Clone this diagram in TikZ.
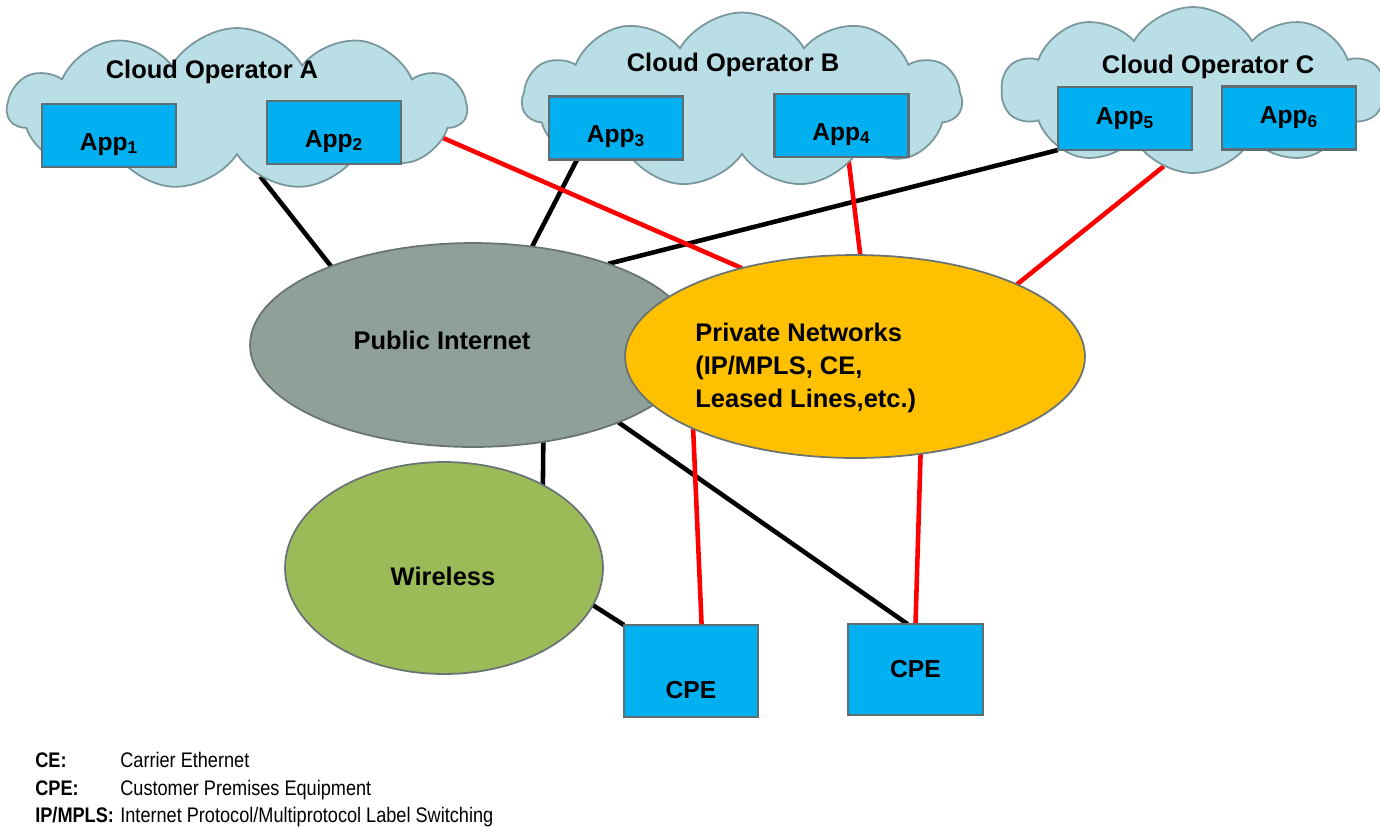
\documentclass[tikz,border=0pt]{standalone}
\usepackage{fontspec}
\setmainfont{Liberation Sans}
\newfontfamily\legendfont[FakeStretch=0.86]{Liberation Sans}
\usetikzlibrary{shapes.symbols,shapes.geometric,calc}
\pgfdeclarelayer{bg}
\pgfsetlayers{bg,main}
\definecolor{cloudfill}{RGB}{185,222,229}
\definecolor{clouddraw}{RGB}{120,150,155}
\definecolor{appfill}{RGB}{0,176,240}
\definecolor{appdraw}{RGB}{95,110,115}
\definecolor{pubfill}{RGB}{143,160,152}
\definecolor{privfill}{RGB}{255,192,0}
\definecolor{wlfill}{RGB}{155,187,89}
\definecolor{elldraw}{RGB}{105,115,115}
\definecolor{redline}{RGB}{255,0,0}
\begin{document}
\begin{tikzpicture}[x=0.02cm,y=-0.02cm,
  cloudbox/.style={cloud, cloud puffs=#1, cloud puff arc=120, cloud ignores aspect, draw=clouddraw,
    line width=1pt, fill=cloudfill, inner sep=0pt, outer sep=0pt},
  appbox/.style={rectangle, draw=appdraw, line width=1.2pt, fill=appfill,
    minimum width=2.68cm, minimum height=1.26cm, inner sep=0pt, outer sep=0pt,
    font=\bfseries\fontsize{14}{16}\selectfont},
  lowtext/.style={text height=#1, text depth=0pt},
  netell/.style={ellipse, draw=elldraw, line width=1pt, inner sep=0pt, outer sep=0pt},
  lbl/.style={inner sep=0pt, font=\bfseries\fontsize{14.5}{18.7}\selectfont},
  blk/.style={line width=2.6pt, draw=black},
  rd/.style={line width=2.6pt, draw=redline},
  legb/.style={inner sep=0pt, anchor=base west, font=\legendfont\bfseries\fontsize{12}{14}\selectfont},
  legt/.style={inner sep=0pt, anchor=base west, font=\legendfont\fontsize{12}{14}\selectfont}
]
\useasboundingbox (0,0) rectangle (1380,826);

% clouds
\node[cloudbox=11, minimum width=9.18cm, minimum height=3.24cm] (cA) at (237,109) {};
\node[cloudbox=11, minimum width=8.8cm, minimum height=3.5cm] (cB) at (742,100) {};
\node[cloudbox=10, minimum width=7.64cm, minimum height=3.32cm] (cC) at (1193,90) {};
\node[lbl] (tA) at (212,72) {Cloud Operator A};
\node[lbl] (tB) at (733,65) {Cloud Operator B};
\node[lbl] (tC) at (1208,67) {Cloud Operator C};

% apps
\node[appbox, lowtext=0.58cm] (app1) at (109,135.5) {App\textsubscript{1}};
\node[appbox, lowtext=0.58cm] (app2) at (334,132.5) {App\textsubscript{2}};
\node[appbox, lowtext=0.58cm] (app3) at (616,128) {App\textsubscript{3}};
\node[appbox, lowtext=0.58cm] (app4) at (841.5,125.5) {App\textsubscript{4}};
\node[appbox] (app5) at (1125,118.5) {App\textsubscript{5}};
\node[appbox] (app6) at (1289,118) {App\textsubscript{6}};

% networks
\node[netell, fill=pubfill, minimum width=8.92cm, minimum height=4.08cm] (pub) at (473,345) {};
\node[netell, fill=privfill, minimum width=9.2cm, minimum height=4.06cm] (priv) at (855,356.5) {};
\node[netell, fill=wlfill, minimum width=6.36cm, minimum height=4.24cm] (wl) at (444,568) {};
\node[lbl] (pubt) at (442,340) {Public Internet};
\node[lbl, align=left, anchor=west] (privt) at (695,368) {Private Networks\\(IP/MPLS, CE,\\Leased Lines,etc.)};
\node[lbl] (wlt) at (443,576) {Wireless};

% CPEs
\node[appbox, minimum height=1.84cm, lowtext=1.08cm] (cpe1) at (691,671) {CPE};
\node[appbox, minimum width=2.7cm, minimum height=1.82cm] (cpe2) at (915.5,669.5) {CPE};

% connectors
\begin{pgfonlayer}{bg}
\draw[blk] (cA.-71) -- (pub.151);
\draw[blk] (app3.-141) -- (pub.59);
\draw[blk] (app5.south west) -- (pub.31);
\draw[blk] (pub.-54) -- (wl.40);
\draw[blk] (wl.-14) -- (cpe1.north west);
\draw[blk] (pub.-28) -- (cpe2.100);
\draw[rd] (cA.-8) -- (priv.142);
\draw[rd] (app4.-78) -- (priv.87);
\draw[rd] (cC.-111) -- (priv.24);
\draw[rd] (priv.-156) -- (cpe1.77);
\draw[rd] (priv.-56) -- (cpe2.north);
\end{pgfonlayer}

% legend
\node[legb] (k1) at (35,767) {CE:};
\node[legt] (d1) at (120,767) {Carrier Ethernet};
\node[legb] (k2) at (35,795) {CPE:};
\node[legt] (d2) at (120,795) {Customer Premises Equipment};
\node[legb] (k3) at (35,822) {IP/MPLS:};
\node[legt] (d3) at (120,822) {Internet Protocol/Multiprotocol Label Switching};
\end{tikzpicture}
\end{document}
